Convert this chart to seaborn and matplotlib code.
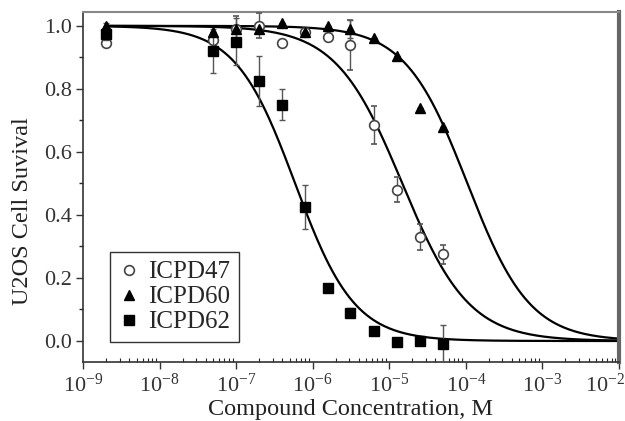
import numpy as np
import pandas as pd
import matplotlib
matplotlib.use("Agg")
import matplotlib.pyplot as plt
from matplotlib.lines import Line2D
from matplotlib.transforms import ScaledTranslation
import seaborn as sns

# -------------------- DATA --------------------
conc = [2e-9, 5e-8, 1e-7, 2e-7, 4e-7, 8e-7, 1.6e-6, 3.1e-6, 6.25e-6, 1.25e-5, 2.5e-5, 5e-5]

icpd47 = [0.945, 0.955, 0.99, 1.00, 0.945, 0.98, 0.965, 0.94, 0.685, 0.48, 0.33, 0.275]
icpd47_err = [0.01, 0.01, 0.04, 0.04, 0.01, 0.01, 0.01, 0.08, 0.06, 0.04, 0.04, 0.03]

icpd60 = [1.00, 0.98, 0.99, 0.99, 1.01, 0.98, 1.00, 0.99, 0.96, 0.905, 0.74, 0.68]
icpd60_err = [0.01, 0.0, 0.0, 0.0, 0.0, 0.0, 0.0, 0.03, 0.0, 0.0, 0.0, 0.0]

icpd62 = [0.975, 0.92, 0.95, 0.825, 0.75, 0.425, 0.168, 0.09, 0.032, -0.003, 0.0, -0.01]
icpd62_err = [0.02, 0.07, 0.075, 0.08, 0.05, 0.07, 0.0, 0.015, 0.0, 0.0, 0.0, 0.06]

# dose-response fit parameters (log10 IC50, Hill slope)
fit_log_ic50 = {"ICPD47": -4.83, "ICPD60": -3.98, "ICPD62": -6.23}
fit_hill = {"ICPD47": 1.0, "ICPD60": 1.07, "ICPD62": 1.12}

compounds = ["ICPD47", "ICPD60", "ICPD62"]

# -------------------- STYLE --------------------
sns.set_style("ticks")
plt.rcParams['font.family'] = ['Liberation Serif', 'DejaVu Serif']
plt.rcParams['mathtext.fontset'] = 'custom'
plt.rcParams['mathtext.rm'] = 'Liberation Serif'
plt.rcParams['mathtext.it'] = 'Liberation Serif:italic'

fig = plt.figure(figsize=(6.25, 4.21), dpi=100)
ax = fig.add_axes([0.1328, 0.1401, 0.8576, 0.8314])

# fitted curves
xfit = np.logspace(np.log10(2e-9), -2, 300)
curves = []
for name in compounds:
    yfit = 1.0 / (1.0 + 10 ** (fit_hill[name] * (np.log10(xfit) - fit_log_ic50[name])))
    curves.append(pd.DataFrame({"conc": xfit, "survival": yfit, "compound": name}))
curves = pd.concat(curves)
sns.lineplot(data=curves, x="conc", y="survival", units="compound", estimator=None,
             color="black", lw=1.6, ax=ax, zorder=2)

# data points with error bars
err_kw = dict(ls="none", ecolor="#555555", elinewidth=1.0, capsize=2.5, capthick=1.0)
ax.errorbar(conc, icpd47, yerr=icpd47_err, marker="o", ms=7, mfc="white", mec="#444444",
            mew=1.2, zorder=3, **err_kw)
ax.errorbar(conc, icpd62, yerr=icpd62_err, marker="s", ms=6.5, mfc="black", mec="black",
            zorder=4, **err_kw)
ax.errorbar(conc, icpd60, yerr=icpd60_err, marker="^", ms=7.5, mfc="black", mec="black",
            zorder=5, **err_kw)

ax.set_xscale("log")
ax.set_xlim(1e-9, 1e-2)
ax.set_ylim(-0.0667, 1.044)
ax.set_yticks([0.0, 0.2, 0.4, 0.6, 0.8, 1.0])
ax.set_yticks(np.arange(0.1, 1.0, 0.2), minor=True)
ax.set_xticks([10.0 ** k for k in range(-9, -1)])

ax.tick_params(axis="y", which="major", direction="out", length=5, width=1, labelsize=16,
               pad=3, colors="#333333")
ax.tick_params(axis="y", which="minor", direction="out", length=3, width=1)
ax.tick_params(axis="x", which="major", direction="out", length=5, width=1, labelsize=16,
               pad=3, colors="#333333")
ax.tick_params(axis="x", which="minor", direction="in", length=3, width=0.8)

# keep the last tick label (10^-2) inside the figure edge
last = ax.get_xticklabels()[-1]
last.set_transform(last.get_transform() + ScaledTranslation(-0.14, 0, fig.dpi_scale_trans))

ax.set_xlabel("Compound Concentration, M", fontsize=17.5, color="#222222", labelpad=2)
ax.set_ylabel("U2OS Cell Suvival", fontsize=17.5, color="#222222")
ax.yaxis.set_label_coords(-0.094, 0.43)

for side in ["left", "bottom"]:
    ax.spines[side].set_color("#333333")
    ax.spines[side].set_linewidth(1.2)
ax.spines["top"].set_color("#888888")
ax.spines["top"].set_linewidth(1.5)
ax.spines["right"].set_color("#666666")
ax.spines["right"].set_linewidth(3)

# legend with markers only
handles = [
    Line2D([], [], ls="none", marker="o", ms=7, mfc="white", mec="#444444", mew=1.2),
    Line2D([], [], ls="none", marker="^", ms=7.5, mfc="black", mec="black"),
    Line2D([], [], ls="none", marker="s", ms=6.5, mfc="black", mec="black"),
]
leg = ax.legend(handles, compounds, loc="lower left", bbox_to_anchor=(0.05, 0.057),
                borderaxespad=0, fontsize=18, frameon=True, fancybox=False,
                handlelength=0.8, handletextpad=0.4, labelspacing=0.1, borderpad=0.35)
leg.get_frame().set_edgecolor("black")
leg.get_frame().set_linewidth(1.0)

fig.savefig("out.png", dpi=100)
